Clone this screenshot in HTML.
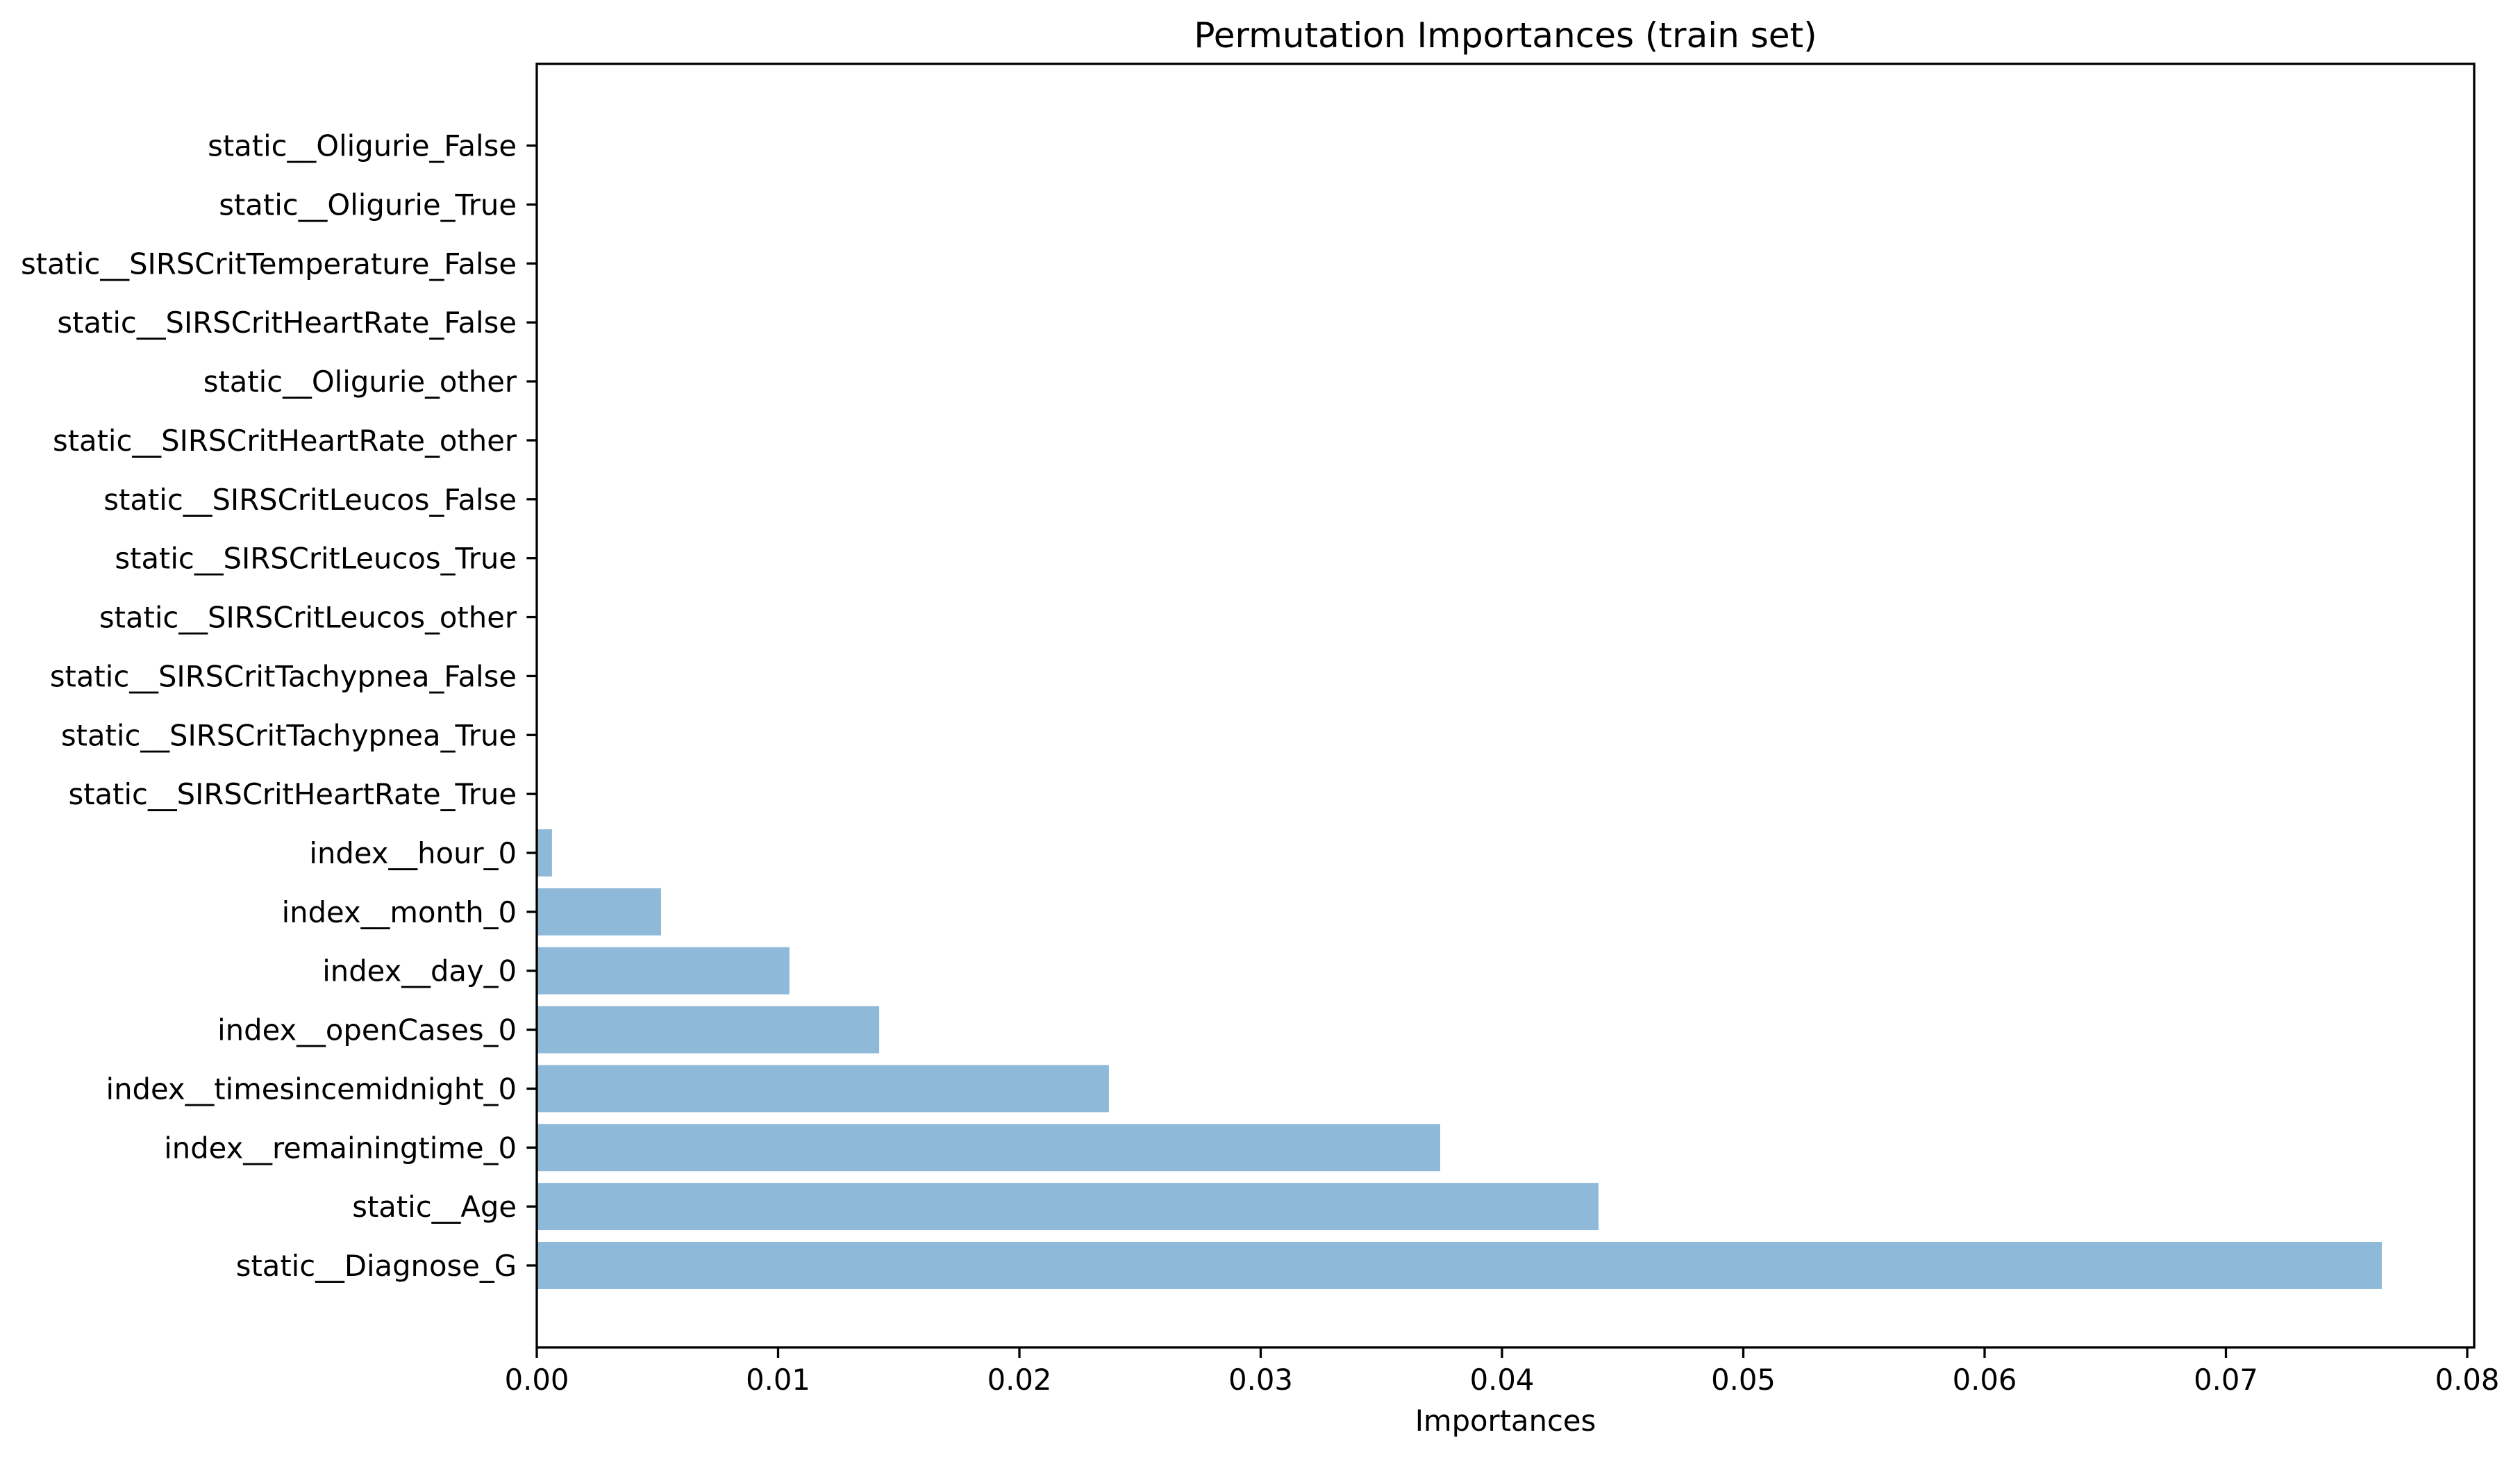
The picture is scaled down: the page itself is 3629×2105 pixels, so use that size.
<!DOCTYPE html>
<html><head><meta charset="utf-8"><style>
html,body{margin:0;padding:0;background:#fff;}
svg text{font-family:"DejaVu Sans","Liberation Sans",sans-serif;fill:#000;}
</style></head><body>
<svg id="chart" width="3629" height="2100" viewBox="0 0 3629 2100" xmlns="http://www.w3.org/2000/svg">
<rect x="0" y="0" width="3629" height="2100" fill="#fff"/>
<text x="2168" y="68" font-size="50" text-anchor="middle">Permutation Importances (train set)</text>
<g id="bars"></g>
<g id="yticks"></g>
<g id="xticks"></g>
<rect x="773" y="92" width="2790" height="1848" fill="none" stroke="#000" stroke-width="3.3"/>
<text x="2168" y="2060" font-size="41.7" text-anchor="middle">Importances</text>
</svg>
<script>
const categories = ["static__Diagnose_G","static__Age","index__remainingtime_0","index__timesincemidnight_0","index__openCases_0","index__day_0","index__month_0","index__hour_0","static__SIRSCritHeartRate_True","static__SIRSCritTachypnea_True","static__SIRSCritTachypnea_False","static__SIRSCritLeucos_other","static__SIRSCritLeucos_True","static__SIRSCritLeucos_False","static__SIRSCritHeartRate_other","static__Oligurie_other","static__SIRSCritHeartRate_False","static__SIRSCritTemperature_False","static__Oligurie_True","static__Oligurie_False"];
const importances = [0.07646,0.0440,0.03744,0.02371,0.01419,0.01047,0.00515,0.00063,0,0,0,0,0,0,0,0,0,0,0,0];
const xTicks = [0,0.01,0.02,0.03,0.04,0.05,0.06,0.07,0.08];
const xTickLabels = ["0.00","0.01","0.02","0.03","0.04","0.05","0.06","0.07","0.08"];

const NS="http://www.w3.org/2000/svg";
const X0=773, XPX=347.5/0.01;
const Y0=1822, YSTEP=84.86, BARH=0.8;
function xs(v){return X0+v*XPX;}
function ys(i){return Y0-i*YSTEP;}
const bars=document.getElementById('bars');
const yt=document.getElementById('yticks');
const xt=document.getElementById('xticks');
categories.forEach((c,i)=>{
  const r=document.createElementNS(NS,'rect');
  
  
  r.setAttribute('x',xs(0));
  r.setAttribute('y',ys(i)-BARH*YSTEP/2);
  r.setAttribute('width',Math.max(0,xs(importances[i])-xs(0)));
  r.setAttribute('height',BARH*YSTEP);
  r.setAttribute('fill','#8fb9d9');
  bars.appendChild(r);
  const t=document.createElementNS(NS,'line');
  
  
  t.setAttribute('x1',X0);t.setAttribute('x2',X0-14.6);
  t.setAttribute('y1',ys(i));t.setAttribute('y2',ys(i));
  t.setAttribute('stroke','#000');t.setAttribute('stroke-width','3.3');
  yt.appendChild(t);
  const l=document.createElementNS(NS,'text');
  
  
  l.setAttribute('x',X0-29);l.setAttribute('y',ys(i)+15);
  l.setAttribute('font-size','41.7');l.setAttribute('text-anchor','end');
  l.textContent=c;
  yt.appendChild(l);
});
xTicks.forEach((v,i)=>{
  const t=document.createElementNS(NS,'line');
  
  
  t.setAttribute('x1',xs(v));t.setAttribute('x2',xs(v));
  t.setAttribute('y1',1940);t.setAttribute('y2',1955);
  t.setAttribute('stroke','#000');t.setAttribute('stroke-width','3.3');
  xt.appendChild(t);
  const l=document.createElementNS(NS,'text');
  
  
  l.setAttribute('x',xs(v));l.setAttribute('y',2001);
  l.setAttribute('font-size','41.7');l.setAttribute('text-anchor','middle');
  l.textContent=xTickLabels[i];
  xt.appendChild(l);
});
</script>
</body></html>
